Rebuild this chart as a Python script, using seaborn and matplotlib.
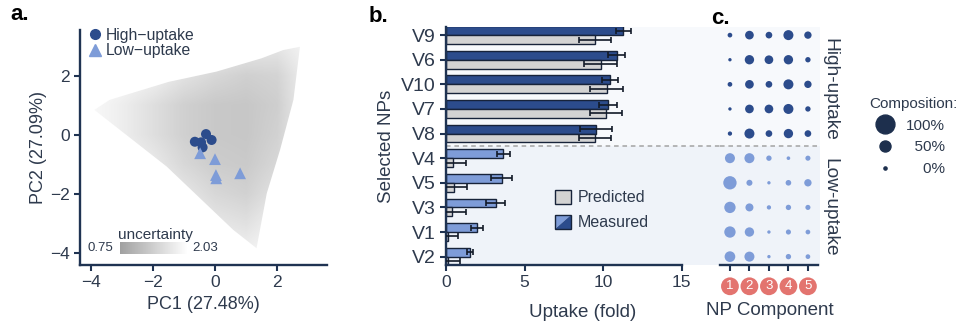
import numpy as np
import pandas as pd
import matplotlib
matplotlib.use("Agg")
import matplotlib.pyplot as plt
import matplotlib.transforms as mtransforms
from matplotlib.patches import Polygon, Rectangle
from matplotlib.lines import Line2D
from matplotlib.legend_handler import HandlerBase
from matplotlib.colors import LinearSegmentedColormap, Normalize
import matplotlib.cm as cm
import seaborn as sns

# ---------------- data ----------------
# panel a: PCA positions of selected NPs
high_pc1 = [-0.65, -0.45, -0.29, -0.11, -0.40]
high_pc2 = [-0.23, -0.25, 0.03, -0.17, -0.42]
low_pc1 = [-0.48, 0.00, 0.03, 0.04, 0.81]
low_pc2 = [-0.62, -0.82, -1.36, -1.47, -1.30]
# outline of the design-space cloud (PC1, PC2)
cloud_x = [-3.89, -3.40, -1.50, 0.05, 1.50, 2.20, 2.74, 2.53, 2.10, 1.67, 1.34, 0.59, -1.56, -3.89]
cloud_y = [0.85, 1.19, 1.80, 2.15, 2.60, 2.88, 2.99, 1.19, -0.50, -1.98, -3.84, -3.22, -1.07, 0.85]
# coarse uncertainty levels over the cloud (cols PC1=-4..3, rows PC2=3..-4)
unc_pc1 = [-4, -3, -2, -1, 0, 1, 2, 3]
unc_pc2 = [3, 2, 1, 0, -1, -2, -3, -4]
unc_grid = [
    [2.00, 2.00, 2.00, 1.95, 1.85, 1.75, 1.70, 1.90],
    [2.00, 1.95, 1.85, 1.65, 1.50, 1.40, 1.45, 1.85],
    [1.95, 1.80, 1.60, 1.40, 1.30, 1.28, 1.38, 1.85],
    [1.95, 1.80, 1.60, 1.40, 1.30, 1.28, 1.42, 1.85],
    [2.00, 1.90, 1.75, 1.50, 1.35, 1.32, 1.50, 1.90],
    [2.00, 2.00, 1.90, 1.70, 1.50, 1.42, 1.65, 1.95],
    [2.00, 2.00, 2.00, 1.90, 1.70, 1.62, 1.85, 2.00],
    [2.00, 2.00, 2.00, 2.00, 1.90, 1.85, 1.95, 2.00],
]
unc_min, unc_max = 0.75, 2.03

# panel b: uptake
nps = ["V9", "V6", "V10", "V7", "V8", "V4", "V5", "V3", "V1", "V2"]
np_group = ["High", "High", "High", "High", "High", "Low", "Low", "Low", "Low", "Low"]
measured = [11.30, 10.87, 10.45, 10.34, 9.55, 3.65, 3.55, 3.16, 1.95, 1.53]
measured_err = [0.50, 0.53, 0.53, 0.58, 1.00, 0.42, 0.67, 0.60, 0.38, 0.21]
predicted = [9.50, 9.85, 10.23, 10.19, 9.47, 0.47, 0.53, 0.36, 0.10, 0.15]
predicted_err = [1.03, 1.04, 1.04, 1.00, 1.03, 0.83, 0.83, 0.90, 0.64, 0.74]

# panel c: composition (fraction) of components 1..5
components = [1, 2, 3, 4, 5]
comp1 = [0.15, 0.05, 0.15, 0.05, 0.12, 0.55, 0.80, 0.65, 0.65, 0.60]
comp2 = [0.45, 0.50, 0.45, 0.45, 0.55, 0.55, 0.25, 0.40, 0.50, 0.55]
comp3 = [0.30, 0.45, 0.30, 0.45, 0.30, 0.20, 0.05, 0.12, 0.05, 0.05]
comp4 = [0.55, 0.50, 0.55, 0.55, 0.50, 0.07, 0.22, 0.20, 0.18, 0.20]
comp5 = [0.35, 0.20, 0.35, 0.20, 0.30, 0.18, 0.35, 0.18, 0.15, 0.15]
legend_levels = [1.0, 0.5, 0.0]
legend_labels = ["100%", "\u200750%", "\u2007\u20070%"]

# ---------------- style ----------------
sns.set_style("ticks")
plt.rcParams["font.family"] = ["Liberation Sans", "DejaVu Sans"]
TXT = "#2e3a4d"
SPINE = "#1f3352"
DARK = "#2c4c8c"
LIGHT = "#7e9cd8"
GRAY = "#d3d3d3"
EDGE = "#17233a"
BG_HI = "#f7f9fc"
BG_LO = "#eff3f9"
plt.rcParams.update({
    "text.color": TXT, "axes.labelcolor": TXT,
    "xtick.color": SPINE, "ytick.color": SPINE,
    "xtick.labelcolor": TXT, "ytick.labelcolor": TXT,
    "axes.edgecolor": SPINE,
})

W, H = 956, 321
fig = plt.figure(figsize=(W / 100, H / 100), dpi=100)


def rect(l, t, r, b):
    return [l / W, 1 - b / H, (r - l) / W, (b - t) / H]


def style_axis(ax):
    for s in ["top", "right"]:
        ax.spines[s].set_visible(False)
    for s in ["left", "bottom"]:
        ax.spines[s].set_linewidth(1.7)
        ax.spines[s].set_color(SPINE)
    ax.tick_params(direction="out", length=4, width=1.5, labelsize=12.5)


# ---------------- panel a ----------------
axa = fig.add_axes(rect(80, 30, 327, 265))
style_axis(axa)
cmap_unc = LinearSegmentedColormap.from_list("unc", ["#a0a0a0", "#ffffff"])
dx = (unc_pc1[1] - unc_pc1[0]) / 2
dy = (unc_pc2[0] - unc_pc2[1]) / 2
im = axa.imshow(np.array(unc_grid), cmap=cmap_unc, vmin=unc_min, vmax=unc_max,
                extent=(unc_pc1[0] - dx, unc_pc1[-1] + dx, unc_pc2[-1] - dy, unc_pc2[0] + dy),
                origin="upper", interpolation="bilinear", aspect="auto", zorder=1)
poly = Polygon(np.column_stack([cloud_x, cloud_y]), closed=True, fill=False, lw=0,
               transform=axa.transData)
axa.add_patch(poly)
im.set_clip_path(poly)

grp_hi, grp_lo = "High\u2212uptake", "Low\u2212uptake"
dfa = pd.DataFrame({
    "pc1": high_pc1 + low_pc1,
    "pc2": high_pc2 + low_pc2,
    "group": [grp_hi] * len(high_pc1) + [grp_lo] * len(low_pc1),
})
sizes_a = np.where(dfa["group"] == grp_hi, 52, 72)
sns.scatterplot(data=dfa, x="pc1", y="pc2", hue="group", style="group",
                markers={grp_hi: "o", grp_lo: "^"}, palette={grp_hi: DARK, grp_lo: LIGHT},
                s=sizes_a, edgecolor="none", linewidth=0, legend=False, ax=axa, zorder=3)
axa.set_xlim(-4.355, 3.613)
axa.set_ylim(-4.41, 3.56)
axa.set_xticks([-4, -2, 0, 2])
axa.set_yticks([-4, -2, 0, 2])
axa.set_xticklabels(["\u22124", "\u22122", "0", "2"])
axa.set_yticklabels(["\u22124", "\u22122", "0", "2"])
axa.set_xlabel("PC1 (27.48%)", fontsize=13, labelpad=4)
axa.set_ylabel("PC2 (27.09%)", fontsize=13, labelpad=2)
axa.set_facecolor("white")
leg_a = axa.legend(handles=[Line2D([], [], marker="o", ls="", color=DARK, ms=7),
                            Line2D([], [], marker="^", ls="", color=LIGHT, ms=8)],
                   labels=[grp_hi, grp_lo], loc="upper left", bbox_to_anchor=(0.036, 1.01),
                   frameon=False, fontsize=11.3, handlelength=0.8, handletextpad=0.3,
                   labelspacing=0.05, borderpad=0, borderaxespad=0)

# uncertainty colour bar
cax = fig.add_axes(rect(120, 242, 188, 254))
cb = fig.colorbar(cm.ScalarMappable(norm=Normalize(unc_min, unc_max), cmap=cmap_unc),
                  cax=cax, orientation="horizontal")
cb.outline.set_visible(False)
cax.set_xticks([])
fig.text(100 / W, 1 - 248 / H, f"{unc_min:.2f}", fontsize=9.5, ha="center", va="center")
fig.text(205 / W, 1 - 248 / H, f"{unc_max:.2f}", fontsize=9.5, ha="center", va="center")
fig.text(155 / W, 1 - 235 / H, "uncertainty", fontsize=11, ha="center", va="center")

# ---------------- panel b ----------------
axb = fig.add_axes(rect(446, 27, 720, 265))
style_axis(axb)
axb.set_facecolor("none")
dfb = pd.DataFrame({
    "NP": nps * 2,
    "value": measured + predicted,
    "type": ["Measured"] * len(nps) + ["Predicted"] * len(nps),
})
sns.barplot(data=dfb, y="NP", x="value", hue="type", order=nps,
            hue_order=["Measured", "Predicted"], orient="h", errorbar=None,
            width=0.72, legend=False, ax=axb, edgecolor=EDGE, linewidth=1.0, zorder=2)
meas_bars, pred_bars = axb.containers[0], axb.containers[1]
for bar, g in zip(meas_bars, np_group):
    bar.set_facecolor(DARK if g == "High" else LIGHT)
for bar in pred_bars:
    bar.set_facecolor(GRAY)
ym = [b.get_y() + b.get_height() / 2 for b in meas_bars]
yp = [b.get_y() + b.get_height() / 2 for b in pred_bars]
ekw = dict(fmt="none", ecolor="#121a28", elinewidth=1.2, capsize=2.3, capthick=1.2, zorder=3)
axb.errorbar(measured, ym, xerr=measured_err, **ekw)
axb.errorbar(predicted, yp, xerr=predicted_err, **ekw)

YLIM = (9.34, -0.33)
axb.set_ylim(*YLIM)
axb.set_xlim(0, 17.45)
axb.set_xticks([0, 5, 10, 15])
axb.spines["bottom"].set_bounds(0, 15)
axb.axhspan(YLIM[1], 4.5, color=BG_HI, zorder=0, lw=0)
axb.axhspan(4.5, YLIM[0], color=BG_LO, zorder=0, lw=0)
axb.axhline(4.5, ls=(0, (3, 2.5)), color="#a3a3a3", lw=1.1, zorder=1)
axb.set_xlabel("Uptake (fold)", fontsize=13.5, labelpad=10)
axb.set_ylabel("Selected NPs", fontsize=13.5, labelpad=4)
axb.tick_params(axis="y", labelsize=14)


class SplitSquare:
    pass


class SplitHandler(HandlerBase):
    def create_artists(self, legend, orig_handle, xdescent, ydescent, width, height, fontsize, trans):
        x0, y0 = -xdescent, -ydescent
        t1 = Polygon([[x0, y0], [x0, y0 + height], [x0 + width, y0 + height]], closed=True,
                     fc=LIGHT, ec="none", transform=trans)
        t2 = Polygon([[x0, y0], [x0 + width, y0], [x0 + width, y0 + height]], closed=True,
                     fc=DARK, ec="none", transform=trans)
        r = Rectangle((x0, y0), width, height, fc="none", ec=EDGE, lw=1.0, transform=trans)
        return [t1, t2, r]


pred_handle = Rectangle((0, 0), 1, 1, fc=GRAY, ec=EDGE, lw=1.0)
axb.legend(handles=[pred_handle, SplitSquare()], labels=["Predicted", "Measured"],
           handler_map={SplitSquare: SplitHandler()}, loc="upper left",
           bbox_to_anchor=(0.398, 0.317), frameon=False, fontsize=11.5,
           handlelength=1.0, handleheight=1.0, handletextpad=0.45, labelspacing=0.6,
           borderpad=0, borderaxespad=0)

# ---------------- panel c ----------------
axc = fig.add_axes(rect(720, 27, 820, 265))
axc.set_facecolor("none")
comps = [comp1, comp2, comp3, comp4, comp5]
dfc = pd.DataFrame({
    "comp": np.repeat(components, len(nps)),
    "row": np.tile(np.arange(len(nps)), len(components)),
    "frac": np.concatenate(comps),
    "group": np.tile(np_group, len(components)),
})


def frac_to_s(f):
    d_px = 2.7 + 13.3 * np.asarray(f)
    return (d_px * 0.72) ** 2


sns.scatterplot(data=dfc, x="comp", y="row", hue="group", palette={"High": DARK, "Low": LIGHT},
                s=frac_to_s(dfc["frac"]), edgecolor="none", linewidth=0, legend=False,
                ax=axc, zorder=3)
axc.set_ylim(*YLIM)
axc.set_xlim(0.49, 5.62)
for s in ["top", "right", "left"]:
    axc.spines[s].set_visible(False)
axc.spines["bottom"].set_linewidth(1.7)
axc.spines["bottom"].set_color(SPINE)
axc.spines["bottom"].set_bounds(0.5, 5.5)
axc.set_yticks([])
axc.set_xticks(components)
axc.set_xticklabels([str(c) for c in components])
axc.tick_params(axis="x", direction="out", length=4, width=1.5, labelsize=9.5,
                labelcolor="white", pad=7)
for lbl in axc.get_xticklabels():
    lbl.set_bbox(dict(boxstyle="circle,pad=0.22", fc="#e3746f", ec="none"))
axc.axhspan(YLIM[1], 4.5, color=BG_HI, zorder=0, lw=0)
axc.axhspan(4.5, YLIM[0], color=BG_LO, zorder=0, lw=0)
axc.axhline(4.5, ls=(0, (3, 2.5)), color="#a3a3a3", lw=1.1, zorder=1)
axc.set_xlabel("NP Component", fontsize=13.5, labelpad=7)
axc.set_ylabel("")
btr = mtransforms.blended_transform_factory(axc.transAxes, axc.transData)
axc.text(1.1, 2.2, "High-uptake", transform=btr, rotation=270, ha="center", va="center", fontsize=13.8)
axc.text(1.1, 7.0, "Low-uptake", transform=btr, rotation=270, ha="center", va="center", fontsize=13.8)

comp_handles = [Line2D([], [], marker="o", ls="", color="#1d2f4d", ms=np.sqrt(frac_to_s(v)) * 1.18)
                for v in legend_levels]
fig.legend(handles=comp_handles, labels=legend_labels, title="Composition:", loc="upper left",
           bbox_to_anchor=(869 / W, 1 - 97 / H), frameon=False, fontsize=11, title_fontsize=11,
           alignment="left", handlelength=2.1, handletextpad=0.3, labelspacing=0.5,
           borderpad=0, borderaxespad=0)

# ---------------- panel labels ----------------
fig.text(10 / W, 1 - 15 / H, "a.", fontsize=16, fontweight="bold", color="black", va="center")
fig.text(369 / W, 1 - 17 / H, "b.", fontsize=16, fontweight="bold", color="black", va="center")
fig.text(711 / W, 1 - 19 / H, "c.", fontsize=16, fontweight="bold", color="black", va="center")

fig.savefig("out.png", dpi=100)
